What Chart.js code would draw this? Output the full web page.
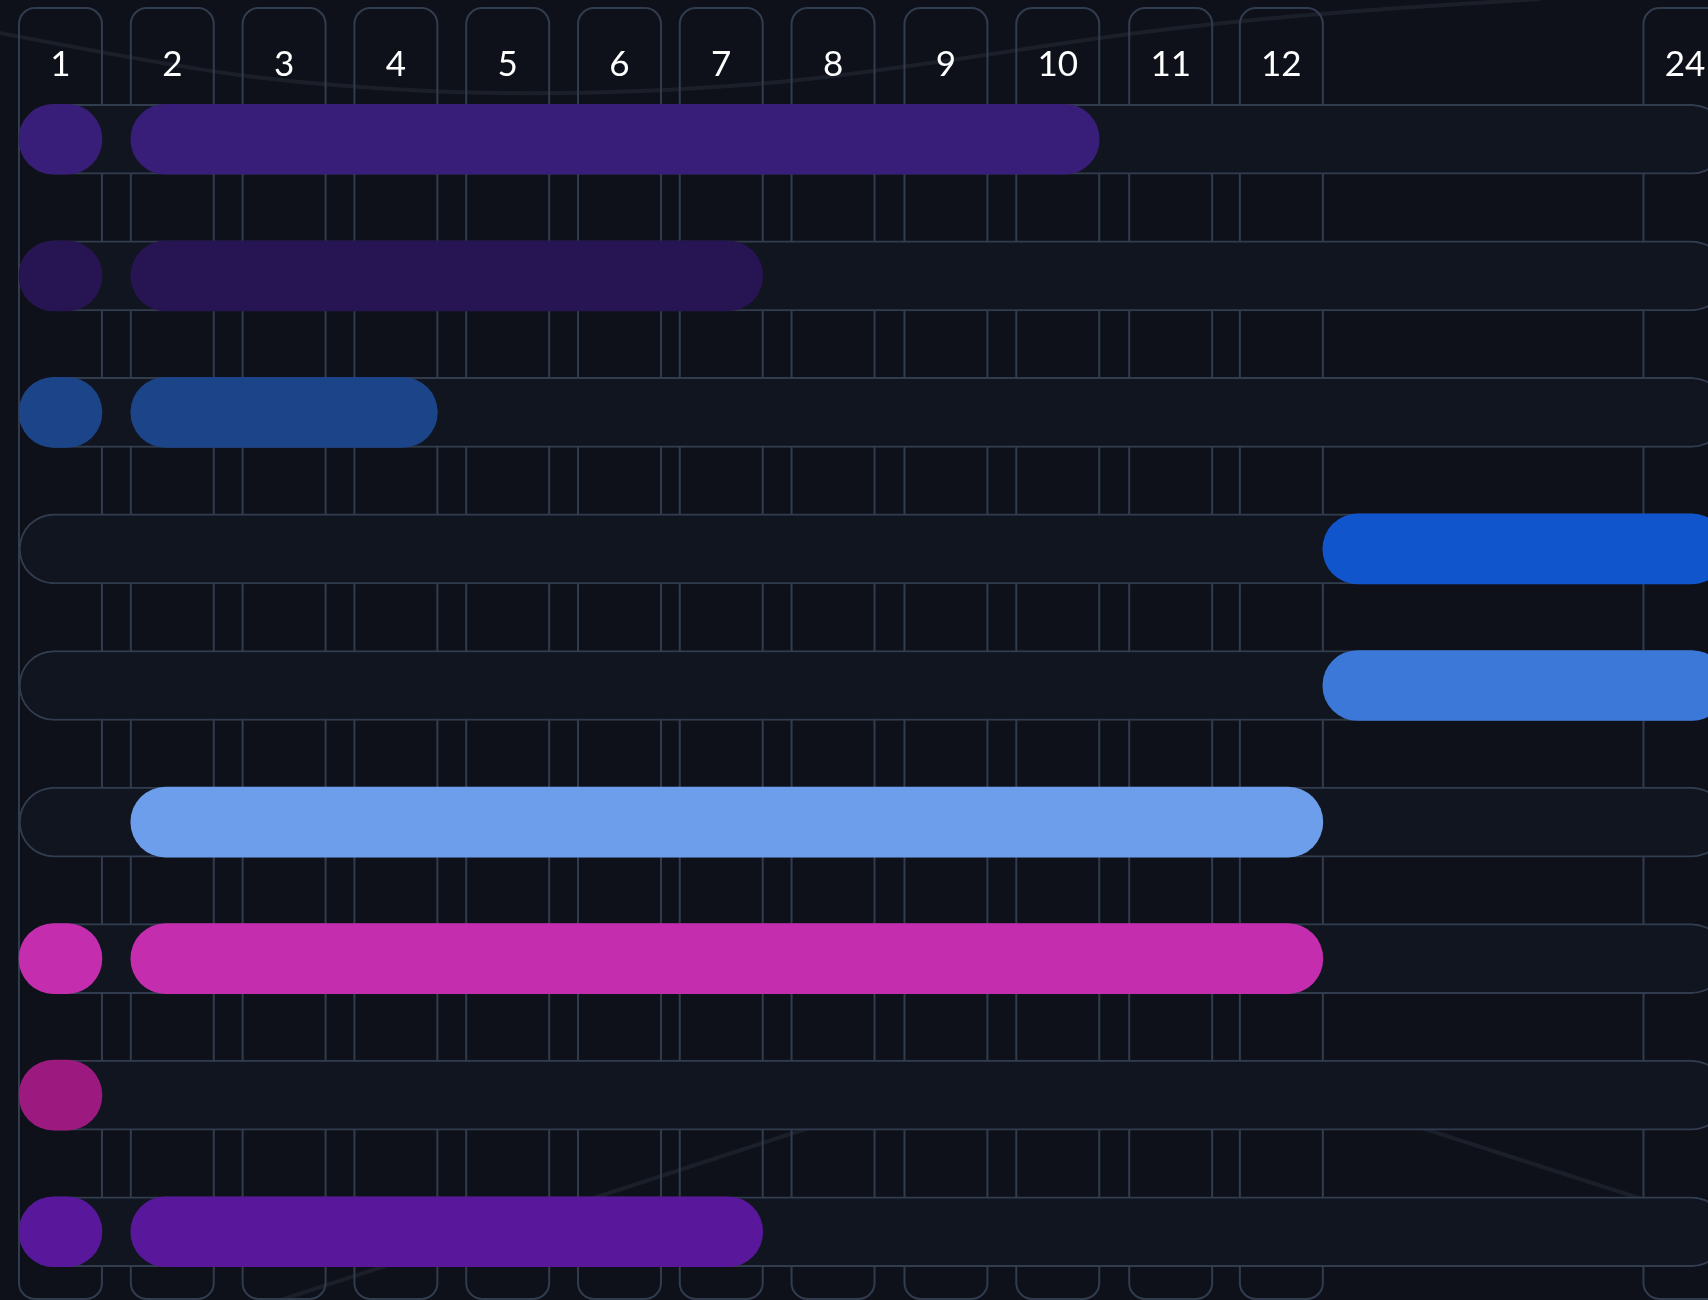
<!DOCTYPE html>
<html>
<head>
<meta charset="utf-8">
<title>Cuotas</title>
<script src="https://cdn.jsdelivr.net/npm/chart.js@4.4.1/dist/chart.umd.min.js"></script>
<style>
  html, body { margin: 0; padding: 0; background: #0e1119; }
  .wrap { position: relative; width: 1708px; height: 1300px; }
</style>
</head>
<body>
<div class="wrap"><canvas id="myChart"></canvas></div>
<script>
// columns (installments) and rows
const cuotas = ['1', '2', '3', '4', '5', '6', '7', '8', '9', '10', '11', '12', '24'];
const filas = ['1', '2', '3', '4', '5', '6', '7', '8', '9'];

// first payment per row (null = none)
const pagoInicial = [1, 1, 1, null, null, null, 1, 1, 1];

// installment span per row: from / to
const tramoDesde = [2, 2, 2, 13, 13, 2, 2, null, 2];
const tramoHasta = [10, 7, 4, 24, 24, 12, 12, null, 7];

// ---- styles
const colores = ['#381e78', '#271452', '#1c4489', '#1155cc', '#3c78d8', '#6d9eeb', '#c42dae', '#9c1a80', '#59189b'];
const lineColor = '#323c4f';
const trackColor = '#101520';

// axis layout: where each column sits on the x scale (columns are not evenly spaced)
const colStart = [0, 1, 2, 3, 4, 5, 5.91, 6.91, 7.92, 8.92, 9.93, 10.92, 14.53];
const colWidth = 0.742;

const colIndex = (m) => cuotas.indexOf(String(m));
const startOf = (m) => {
  const i = colIndex(m);
  if (i >= 0) return colStart[i];
  // month without a column: starts right after the previous column
  const prev = cuotas.filter((c) => Number(c) < m).pop();
  return colStart[colIndex(prev)] + colWidth;
};
const endOf = (m) => colStart[colIndex(m)] + colWidth;

const ultima = Number(cuotas[cuotas.length - 1]);
const pista = filas.map(() => [startOf(1), endOf(ultima)]);
const puntos = pagoInicial.map((m) => (m ? [startOf(m), endOf(m)] : null));
const tramos = tramoDesde.map((d, i) => (d ? [startOf(d), endOf(tramoHasta[i])] : null));

const backdrop = {
  id: 'backdrop',
  beforeDraw(chart) {
    const { ctx, width, height } = chart;
    ctx.save();
    ctx.fillStyle = '#0e1119';
    ctx.fillRect(0, 0, width, height);

    // faint decorative curves
    ctx.strokeStyle = '#1b1f2a';
    ctx.lineWidth = 4;
    const pts = [[-10, 31], [150, 62], [300, 84], [520, 96], [760, 86], [940, 62], [1090, 39], [1200, 25], [1350, 11], [1540, -1]];
    ctx.beginPath();
    ctx.moveTo(pts[0][0], pts[0][1]);
    for (let i = 1; i < pts.length - 1; i++) {
      const mx = (pts[i][0] + pts[i + 1][0]) / 2;
      const my = (pts[i][1] + pts[i + 1][1]) / 2;
      ctx.quadraticCurveTo(pts[i][0], pts[i][1], mx, my);
    }
    ctx.lineTo(pts[pts.length - 1][0], pts[pts.length - 1][1]);
    ctx.stroke();

    ctx.beginPath();
    ctx.moveTo(250, 1310);
    ctx.lineTo(830, 1121);
    ctx.moveTo(1400, 1121);
    ctx.lineTo(1642, 1199);
    ctx.stroke();
    ctx.restore();
  },
};

const columnas = {
  id: 'columnas',
  beforeDatasetsDraw(chart) {
    const { ctx } = chart;
    const x = chart.scales.x;
    ctx.save();
    ctx.strokeStyle = lineColor;
    ctx.lineWidth = 2;
    cuotas.forEach((c, i) => {
      const x0 = x.getPixelForValue(colStart[i]);
      const x1 = x.getPixelForValue(colStart[i] + colWidth);
      ctx.beginPath();
      ctx.roundRect(x0, 8, x1 - x0, 1291, 16);
      ctx.stroke();
    });
    ctx.fillStyle = '#ffffff';
    ctx.font = '35px Lato';
    ctx.textAlign = 'center';
    ctx.textBaseline = 'alphabetic';
    cuotas.forEach((c, i) => {
      const xc = x.getPixelForValue(colStart[i] + colWidth / 2);
      ctx.fillText(c, xc, 76);
    });
    ctx.restore();
  },
};

const barra = {
  barThickness: 70,
  borderRadius: 40,
  borderSkipped: false,
  grouped: false,
};

const ctx = document.getElementById('myChart');

new Chart(ctx, {
  type: 'bar',
  data: {
    labels: filas,
    datasets: [
      { ...barra, label: 'tramo', data: tramos, backgroundColor: colores, order: 1 },
      { ...barra, label: 'cuota 1', data: puntos, backgroundColor: colores, order: 2 },
      {
        ...barra,
        label: 'pista',
        data: pista,
        backgroundColor: trackColor,
        borderColor: lineColor,
        borderWidth: 2,
        order: 3,
      },
    ],
  },
  options: {
    indexAxis: 'y',
    responsive: true,
    maintainAspectRatio: false,
    animation: false,
    layout: { padding: { top: 71, bottom: 0, left: 0, right: 0 } },
    plugins: {
      legend: { display: false },
      tooltip: { enabled: false },
    },
    scales: {
      x: { type: 'linear', min: -0.17, max: 15.107, display: false },
      y: { display: false },
    },
  },
  plugins: [backdrop, columnas],
});
</script>
</body>
</html>
